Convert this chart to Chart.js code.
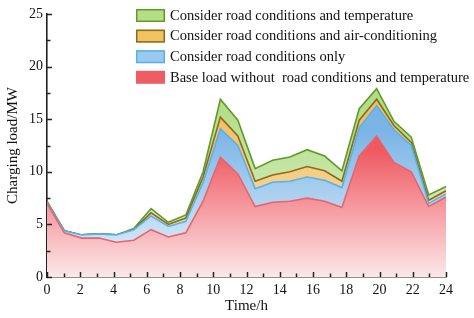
<!DOCTYPE html>
<html>
<head>
<meta charset="utf-8">
<script src="https://cdn.jsdelivr.net/npm/chart.js@4/dist/chart.umd.min.js"></script>
<style>
    html, body { margin: 0; padding: 0; background: #fff; }
</style>
</head>
<body>
<canvas id="loadChart" width="474" height="318"></canvas>
<script>
// hour positions of the 24 samples (0 .. 24 h)
const hours = [0, 1.04, 2.09, 3.13, 4.17, 5.22, 6.26, 7.3, 8.35, 9.39, 10.43, 11.48,
               12.52, 13.57, 14.61, 15.65, 16.7, 17.74, 18.78, 19.83, 20.87, 21.91, 22.96, 24];

// total charging load (MW) for each scenario
const baseLoad = [7.0, 4.2, 3.7, 3.7, 3.3, 3.5, 4.5, 3.8, 4.2, 7.2, 11.4, 9.8,
                  6.7, 7.1, 7.2, 7.5, 7.2, 6.6, 11.5, 13.4, 10.9, 10.0, 6.7, 7.6];
const roadOnly = [7.1, 4.4, 4.0, 4.1, 4.0, 4.5, 5.8, 4.8, 5.3, 9.0, 14.1, 12.5,
                  8.4, 9.0, 9.1, 9.5, 9.2, 8.5, 14.2, 16.3, 14.0, 12.5, 7.0, 7.9];
const roadAir = [7.1, 4.4, 4.0, 4.1, 4.0, 4.5, 6.1, 5.0, 5.6, 9.5, 15.2, 13.4,
                 9.1, 9.7, 10.0, 10.5, 10.1, 9.1, 14.9, 16.9, 14.4, 12.8, 7.3, 8.2];
const roadTemp = [7.2, 4.4, 4.0, 4.1, 4.0, 4.6, 6.5, 5.2, 5.9, 10.0, 16.9, 14.9,
                  10.3, 11.1, 11.4, 12.1, 11.5, 10.1, 16.0, 17.9, 14.8, 13.3, 7.8, 8.6];

const xTickLabels = [0, 2, 4, 6, 8, 10, 12, 14, 16, 18, 20, 22, 24];
const yTickLabels = [0, 5, 10, 15, 20, 25];

const seriesNames = [
    "Base load without  road conditions and temperature",
    "Consider road conditions only",
    "Consider road conditions and air-conditioning",
    "Consider road conditions and temperature"
];

const serif = "'Liberation Serif', 'Times New Roman', serif";
const axisColor = "#222";

function points(values) {
    return values.map((v, i) => ({ x: hours[i], y: v }));
}

// vertical gradient over the plot area, strong near the top, pale at zero
function gradient(top, bottom, topValue) {
    return (context) => {
        const chart = context.chart;
        const { ctx, chartArea, scales } = chart;
        if (!chartArea) return top;
        const g = ctx.createLinearGradient(0, scales.y.getPixelForValue(topValue), 0, chartArea.bottom);
        g.addColorStop(0, top);
        g.addColorStop(1, bottom);
        return g;
    };
}

const lineColors = ["#e8646c", "#55b3e8", "#8d6a1e", "#609b27"];
const boxColors = ["#ee5c64", "#9ccaef", "#f2c35f", "#b6de88"];

// ticks point into the plot, like the original figure
const innerTicks = {
    id: "innerTicks",
    afterDraw(chart) {
        const { ctx, chartArea, scales: { x, y } } = chart;
        ctx.save();
        ctx.strokeStyle = axisColor;
        ctx.lineWidth = 1.5;
        x.ticks.forEach(t => {
            const px = Math.round(x.getPixelForValue(t.value)) + 0.5;
            const len = xTickLabels.includes(t.value) ? 5 : 3.5;
            ctx.beginPath();
            ctx.moveTo(px, chartArea.bottom);
            ctx.lineTo(px, chartArea.bottom - len);
            ctx.stroke();
        });
        y.ticks.forEach(t => {
            const py = Math.round(y.getPixelForValue(t.value)) + 0.5;
            const len = yTickLabels.includes(t.value) ? 5 : 3.5;
            ctx.beginPath();
            ctx.moveTo(chartArea.left, py);
            ctx.lineTo(chartArea.left + len, py);
            ctx.stroke();
        });
        ctx.restore();
    }
};

// one-column legend in the upper right, last series first
const boxLegend = {
    id: "boxLegend",
    afterDraw(chart) {
        const ctx = chart.ctx;
        const left = 136, top = 9, rowH = 20.6, boxW = 29, boxH = 13;
        ctx.save();
        ctx.font = "14.5px " + serif;
        ctx.textBaseline = "middle";
        for (let r = 0; r < 4; r++) {
            const i = 3 - r;
            const y = top + r * rowH;
            ctx.fillStyle = boxColors[i];
            ctx.fillRect(left, y, boxW, boxH);
            if (i > 0) {
                ctx.strokeStyle = lineColors[i];
                ctx.lineWidth = 1.5;
                ctx.strokeRect(left + 0.75, y + 0.75, boxW - 1.5, boxH - 1.5);
            }
            ctx.fillStyle = "#111";
            ctx.fillText(seriesNames[i], left + boxW + 5, y + boxH / 2 + 0.5);
        }
        ctx.restore();
    }
};

const ctx = document.getElementById("loadChart").getContext("2d");
new Chart(ctx, {
    type: "line",
    data: {
        datasets: [
            {
                label: seriesNames[0],
                data: points(baseLoad),
                borderColor: lineColors[0],
                backgroundColor: gradient("#ef5a62", "#fce8ea", 12),
                fill: "origin"
            },
            {
                label: seriesNames[1],
                data: points(roadOnly),
                borderColor: lineColors[1],
                backgroundColor: gradient("#7ab4e6", "#eaf3fb", 14),
                fill: "-1"
            },
            {
                label: seriesNames[2],
                data: points(roadAir),
                borderColor: lineColors[2],
                backgroundColor: gradient("#f2c062", "#fbe8c6", 15),
                fill: "-1"
            },
            {
                label: seriesNames[3],
                data: points(roadTemp),
                borderColor: lineColors[3],
                backgroundColor: gradient("#b2dc84", "#e2f3d2", 17),
                fill: "-1"
            }
        ]
    },
    options: {
        responsive: false,
        animation: false,
        devicePixelRatio: 1,
        elements: {
            point: { radius: 0 },
            line: { borderWidth: 1.6, tension: 0 }
        },
        layout: { padding: { top: 14, right: 28, left: 0, bottom: 0 } },
        plugins: {
            legend: { display: false },
            tooltip: { enabled: false }
        },
        scales: {
            x: {
                type: "linear",
                min: 0,
                max: 24,
                afterFit: (s) => { s.height = 41; },
                grid: { display: false, drawTicks: false },
                border: { display: true, color: axisColor, width: 1.6 },
                ticks: {
                    stepSize: 1,
                    padding: 5,
                    autoSkip: false,
                    maxRotation: 0,
                    minRotation: 0,
                    color: "#111",
                    font: { family: serif, size: 14 },
                    callback: (v) => xTickLabels.includes(v) ? String(v) : ""
                },
                title: {
                    display: true,
                    text: "Time/h",
                    color: "#111",
                    font: { family: serif, size: 15 },
                    padding: { top: 0, bottom: 3 }
                }
            },
            y: {
                min: 0,
                max: 25,
                afterFit: (s) => { s.width = 47; },
                grid: { display: false, drawTicks: false },
                border: { display: true, color: axisColor, width: 1.6 },
                ticks: {
                    stepSize: 2.5,
                    padding: 4,
                    autoSkip: false,
                    color: "#111",
                    font: { family: serif, size: 14 },
                    callback: (v) => yTickLabels.includes(v) ? String(v) : ""
                },
                title: {
                    display: true,
                    text: "Charging load/MW",
                    color: "#111",
                    font: { family: serif, size: 15 },
                    padding: { top: 4, bottom: 0 }
                }
            }
        }
    },
    plugins: [innerTicks, boxLegend]
});
</script>
</body>
</html>
